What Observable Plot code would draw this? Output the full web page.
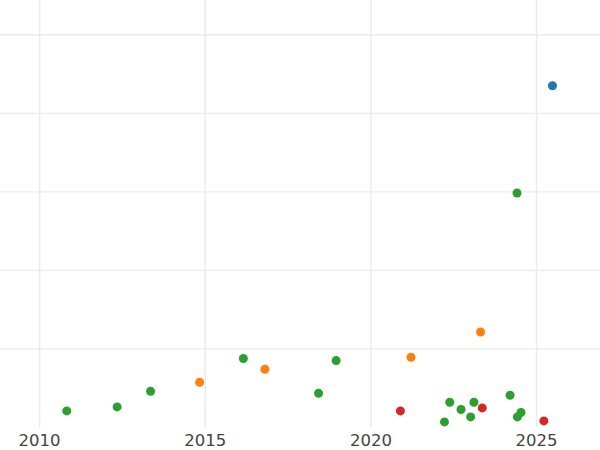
<!DOCTYPE html>
<html>
<head>
<meta charset="utf-8">
<script src="https://cdn.jsdelivr.net/npm/d3@7"></script>
<script src="https://cdn.jsdelivr.net/npm/@observablehq/plot@0.6"></script>
<style>
  html, body { margin: 0; padding: 0; background: #fff; }
  #chart svg { display: block; }
</style>
</head>
<body>
<div id="chart"></div>
<script>
// Data
const years = [2010.82, 2012.34, 2013.35, 2014.83, 2016.15, 2016.80, 2018.42, 2018.95,
  2020.89, 2021.21, 2022.22, 2022.38, 2022.72, 2023.01, 2023.11, 2023.31, 2023.36,
  2024.20, 2024.42, 2024.53, 2025.22, 2025.48, 2024.41];
const values = [0.211, 0.262, 0.462, 0.576, 0.878, 0.742, 0.436, 0.852,
  0.211, 0.894, 0.071, 0.322, 0.229, 0.135, 0.322, 1.216, 0.249,
  0.411, 0.135, 0.191, 0.084, 4.351, 2.985];
const groups = ["C", "C", "C", "B", "C", "B", "C", "C",
  "D", "B", "C", "C", "C", "C", "C", "B", "D",
  "C", "C", "C", "D", "A", "C"];
const groupNames = ["A", "B", "C", "D"];
const groupColors = ["#1f77b4", "#ff7f0e", "#2ca02c", "#d62728"];
const xTicks = [2010, 2015, 2020, 2025];
const yGrid = [1, 2, 3, 4, 5];

const data = years.map((y, i) => ({year: y, value: values[i], group: groups[i]}));

const chart = Plot.plot({
  width: 600,
  height: 450,
  marginLeft: 0,
  marginRight: 0,
  marginTop: 0,
  marginBottom: 23,
  style: {fontFamily: "DejaVu Sans, sans-serif", background: "#fff"},
  x: {domain: [2008.82, 2026.93]},
  y: {domain: [0, 5.436]},
  color: {domain: groupNames, range: groupColors},
  marks: [
    Plot.ruleX(xTicks, {x: d => d, stroke: "#ebebeb", strokeWidth: 1.5, strokeOpacity: 1}),
    Plot.ruleY(yGrid, {y: d => d, stroke: "#ebebeb", strokeWidth: 1.3, strokeOpacity: 1}),
    Plot.axisX({ticks: xTicks, tickSize: 0, tickPadding: 7, tickFormat: d => String(d),
      fontSize: 16.5, fill: "#444", label: null}),
    Plot.axisY({ticks: [], label: null}),
    Plot.dot(data, {x: "year", y: "value", fill: "group", r: 4.5, stroke: null})
  ]
});
document.getElementById("chart").appendChild(chart);
</script>
</body>
</html>
